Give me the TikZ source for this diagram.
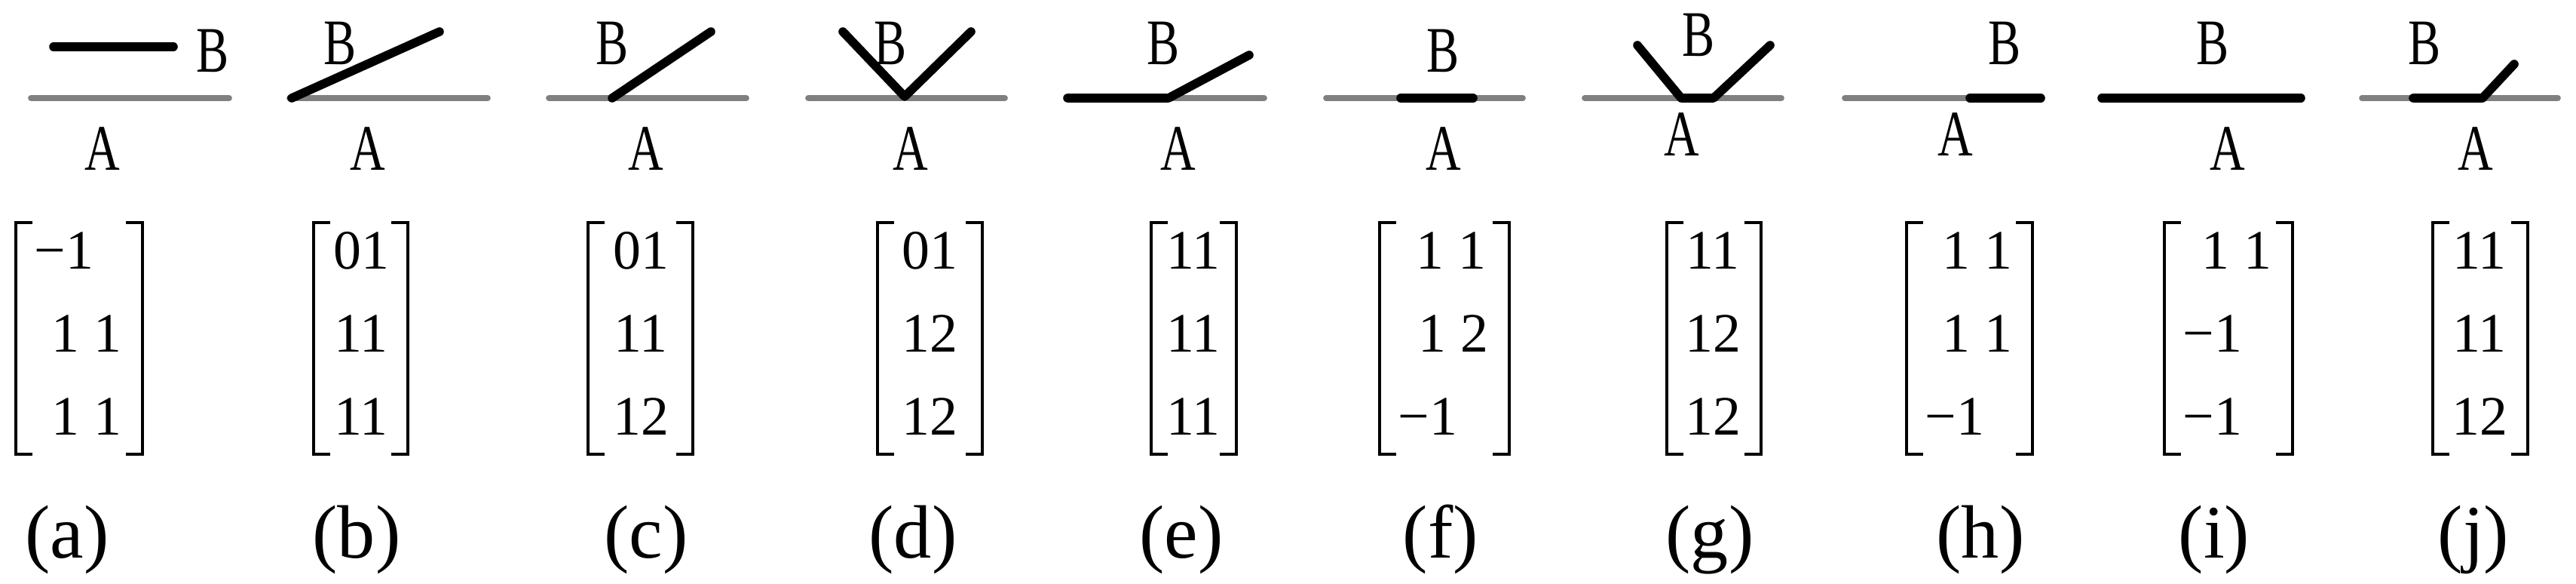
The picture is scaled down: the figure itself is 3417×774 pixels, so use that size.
\documentclass[tikz,border=0pt]{standalone}
\usepackage{fontspec}
\setmainfont{Liberation Serif}
\usepackage{graphicx}
\usepackage{tikz}
\definecolor{dGray}{RGB}{128,128,128}
\tikzset{
  surf/.style={draw=dGray, line width=2.2pt, line cap=round},
  seg/.style={draw=black, line width=3.3pt, line cap=round, line join=round},
  brk/.style={draw=black, line width=1.05pt},
  lbl/.style={font=\fontsize{24.5}{28}\selectfont, inner sep=0pt, anchor=base},
  ent/.style={font=\fontsize{21}{25}\selectfont, inner sep=0pt, anchor=base},
  sublbl/.style={font=\fontsize{28.5}{33}\selectfont, inner sep=0pt, anchor=base},
}
\newcommand{\Nar}[1]{\scalebox{0.75}[1]{#1}}
\newcommand{\dgap}{\hspace{0.26em}}
\newcommand{\Brk}[2]{% {left x}{right x}
  \draw[brk] (#1+22,295) -| (#1,602) -- (#1+22,602);
  \draw[brk] (#2-22,295) -| (#2,602) -- (#2-22,602);}
\newcommand{\Col}[7]{% {tag}{x1}{row1}{x2}{row2}{x3}{row3}
  \node[ent] (#1r1) at (#2,357) {#3};
  \node[ent] (#1r2) at (#4,467) {#5};
  \node[ent] (#1r3) at (#6,577) {#7};}

\begin{document}
\begin{tikzpicture}[x=0.1mm, y=-0.1mm]
  \useasboundingbox (0,0) rectangle (3417,774);
  % (a)
  \draw[surf] (41,130) -- (304,130);
  \draw[seg] (71,62) -- (230,62);
  \node[lbl] (Ba) at (282,96) {\Nar{B}};
  \node[lbl] (Aa) at (136,226) {\Nar{A}};
  \Brk{21}{189}
  \Col{a}{85}{−1}{115}{1\dgap1}{115}{1\dgap1}
  \node[sublbl] (capa) at (89,740) {(a)};
  % (b)
  \draw[surf] (384,130) -- (647,130);
  \draw[seg] (387,130) -- (583,42);
  \node[lbl] (Bb) at (451,86) {\Nar{B}};
  \node[lbl] (Ab) at (488,226) {\Nar{A}};
  \Brk{416}{541}
  \Col{b}{479}{01}{479}{11}{479}{11}
  \node[sublbl] (capb) at (473,740) {(b)};
  % (c)
  \draw[surf] (728,130) -- (990,130);
  \draw[seg] (812,130) -- (943,42);
  \node[lbl] (Bc) at (812,86) {\Nar{B}};
  \node[lbl] (Ac) at (857,226) {\Nar{A}};
  \Brk{780}{919}
  \Col{c}{850}{01}{850}{11}{850}{12}
  \node[sublbl] (capc) at (857,740) {(c)};
  % (d)
  \draw[surf] (1072,130) -- (1333,130);
  \draw[seg] (1118,42) -- (1200,128) -- (1288,42);
  \node[lbl] (Bd) at (1181,86) {\Nar{B}};
  \node[lbl] (Ad) at (1208,226) {\Nar{A}};
  \Brk{1164}{1303}
  \Col{d}{1233}{01}{1233}{12}{1233}{12}
  \node[sublbl] (capd) at (1211,740) {(d)};
  % (e)
  \draw[surf] (1416,130) -- (1677,130);
  \draw[seg] (1416,130) -- (1550,130) -- (1657,73);
  \node[lbl] (Be) at (1543,86) {\Nar{B}};
  \node[lbl] (Ae) at (1563,226) {\Nar{A}};
  \Brk{1527}{1640}
  \Col{e}{1583}{11}{1583}{11}{1583}{11}
  \node[sublbl] (cape) at (1567,740) {(e)};
  % (f)
  \draw[surf] (1759,130) -- (2020,130);
  \draw[seg] (1858,130) -- (1954,130);
  \node[lbl] (Bf) at (1914,96) {\Nar{B}};
  \node[lbl] (Af) at (1915,226) {\Nar{A}};
  \Brk{1830}{2002}
  \Col{f}{1925}{1\dgap1}{1928}{1\dgap2}{1894}{−1}
  \node[sublbl] (capf) at (1911,740) {(f)};
  % (g)
  \draw[surf] (2102,130) -- (2363,130);
  \draw[seg] (2172,60) -- (2230,130) -- (2273,130) -- (2348,60);
  \node[lbl] (Bg) at (2253,75) {\Nar{B}};
  \node[lbl] (Ag) at (2231,207) {\Nar{A}};
  \Brk{2211}{2336}
  \Col{g}{2272}{11}{2272}{12}{2272}{12}
  \node[sublbl] (capg) at (2268,740) {(g)};
  % (h)
  \draw[surf] (2447,130) -- (2707,130);
  \draw[seg] (2613,130) -- (2707,130);
  \node[lbl] (Bh) at (2659,86) {\Nar{B}};
  \node[lbl] (Ah) at (2594,207) {\Nar{A}};
  \Brk{2529}{2696}
  \Col{h}{2623}{1\dgap1}{2623}{1\dgap1}{2593}{−1}
  \node[sublbl] (caph) at (2627,740) {(h)};
  % (i)
  \draw[surf] (2788,130) -- (3052,130);
  \draw[seg] (2788,130) -- (3052,130);
  \node[lbl] (Bi) at (2935,86) {\Nar{B}};
  \node[lbl] (Ai) at (2955,226) {\Nar{A}};
  \Brk{2871}{3041}
  \Col{i}{2967}{1\dgap1}{2935}{−1}{2935}{−1}
  \node[sublbl] (capi) at (2937,740) {(i)};
  % (j)
  \draw[surf] (3133,130) -- (3393,130);
  \draw[seg] (3201,130) -- (3293,130) -- (3335,85);
  \node[lbl] (Bj) at (3216,86) {\Nar{B}};
  \node[lbl] (Aj) at (3284,226) {\Nar{A}};
  \Brk{3227}{3353}
  \Col{j}{3289}{11}{3289}{11}{3289}{12}
  \node[sublbl] (capj) at (3281,740) {(j)};
\end{tikzpicture}
\end{document}
